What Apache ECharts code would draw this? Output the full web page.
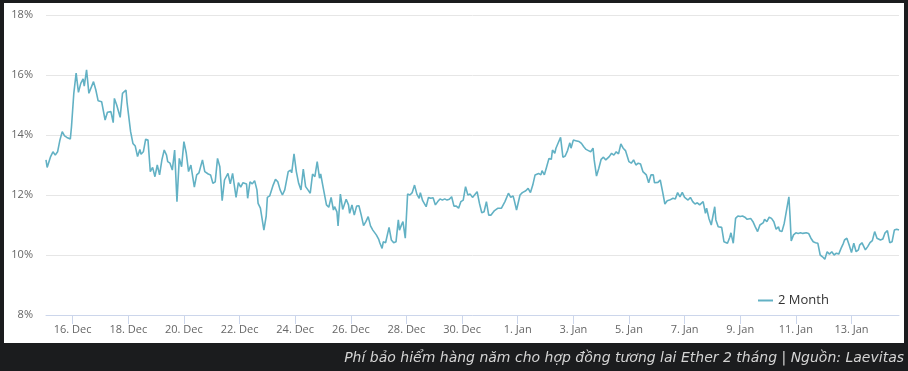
<!DOCTYPE html>
<html>
<head>
<meta charset="utf-8">
<script src="https://cdn.jsdelivr.net/npm/echarts@6/dist/echarts.min.js"></script>
<style>
html,body{margin:0;padding:0;background:#1b1c1e;}
#c{width:908px;height:371px;}
</style>
</head>
<body>
<div id="c"></div>
<script>
// Hours relative to 16 Dec 00:00
const hours = [-23,-22,-19,-17,-15,-13,-11,-9,-7,-5,-2,-1,1,3,5,7,9,10,12,14,18,20,22,25,28,30,33,35,36,38,41,43,46,47,50,52,54,56,58,59,61,63,65,67,69,71,73,75,77,79,81,82,84,86,88,90,92,94,96,
98,100,102,105,107,109,112,114,117,119,121,123,125,127,129,131,132,134,136,138,141,143,145,147,150,151,153,155,157,159,160,162,165,167,168,170,173,175,177,179,181,183,186,188,189,191,193,195,197,199,201,203,205,207,209,211,213,214,216,219,221,
223,225,226,228,229,231,233,236,238,239,241,243,245,247,249,251,253,255,257,259,262,264,265,267,268,270,273,275,277,279,281,282,284,285,287,289,291,293,295,297,299,300,302,305,307,309,311,313,315,317,319,321,323,325,327,329,331,333,335,337,339,341,343,345,
349,351,353,355,357,359,361,364,367,370,373,376,378,380,381,383,386,388,391,393,395,397,399,402,404,405,407,409,411,413,414,416,417,419,421,423,425,427,429,430,432,434,437,439,441,443,445,447,449,450,452,454,456,458,460,463,465,467,469,
471,473,475,477,480,482,484,486,488,490,492,495,497,499,501,502,505,507,509,511,513,515,518,520,522,524,526,528,531,533,535,537,539,541,544,546,547,549,551,554,555,557,560,562,565,567,568,570,572,574,576,578,580,582,585,587,589,591,593,
596,597,599,601,603,605,607,609,610,612,614,615,617,618,619,620,622,624,626,628,630,633,635,637,639,641,643,645,647,649,651,653,655,657,659,661,663,665,666,668,670,672,674,676,678,679,681,684,686,688,690,692,694,695,697,699,701,703,705,707,709,711,713];
const values = [13.17,12.92,13.28,13.44,13.33,13.44,13.83,14.11,13.97,13.92,13.87,14.28,15.39,16.06,15.42,15.72,15.87,15.63,16.17,15.39,15.78,15.5,15.14,15.11,14.5,14.76,14.78,14.41,15.22,15.0,14.59,15.39,15.5,15.06,14.11,13.72,13.63,13.28,13.52,13.36,13.44,13.86,13.83,12.78,12.92,12.61,13.0,12.67,13.17,13.5,13.33,13.11,13.06,12.83,13.5,11.78,13.22,12.94,13.78,
13.4,12.78,13.0,12.26,12.67,12.74,13.17,12.78,12.7,12.67,12.39,12.44,13.22,12.94,11.81,12.5,12.56,12.72,12.37,12.72,11.92,12.41,12.26,12.41,12.37,11.89,12.44,12.37,12.48,12.17,11.72,11.56,10.83,11.3,11.92,11.97,12.33,12.52,12.44,12.17,12.0,12.17,12.78,12.83,12.74,13.37,12.78,12.39,12.17,12.86,12.28,12.17,12.06,12.7,12.61,13.11,12.56,12.7,12.28,11.67,11.59,
11.92,11.5,11.61,11.44,10.97,12.03,11.52,11.86,11.67,11.39,11.67,11.33,11.63,11.64,11.33,10.98,11.11,11.28,10.97,10.83,10.67,10.53,10.41,10.22,10.44,10.41,10.92,10.5,10.41,10.44,11.17,10.83,11.03,11.11,10.56,12.03,12.0,12.08,12.33,12.03,11.89,12.08,11.81,11.61,11.92,11.89,11.91,11.67,11.78,11.87,11.83,11.87,11.83,11.86,11.94,11.63,11.63,11.56,11.78,11.83,12.28,12.0,12.03,11.92,
12.11,11.72,11.41,11.44,11.78,11.33,11.33,11.48,11.56,11.56,11.78,12.06,11.92,11.97,11.83,11.5,12.0,12.08,12.14,12.22,12.08,12.33,12.67,12.72,12.67,12.81,12.67,12.94,13.22,13.19,13.5,13.39,13.56,13.74,13.92,13.26,13.3,13.48,13.74,13.56,13.83,13.81,13.78,13.72,13.61,13.52,13.48,13.44,13.56,13.17,12.63,12.89,13.19,13.26,13.17,13.28,13.39,13.33,13.44,
13.37,13.7,13.56,13.48,13.11,13.06,13.17,13.0,13.06,13.03,12.78,12.67,12.41,12.67,12.67,12.41,12.42,12.5,12.11,11.7,11.81,11.83,11.89,11.87,12.08,11.94,12.09,11.92,11.83,11.92,11.78,11.7,11.74,11.67,11.78,11.39,11.56,11.22,11.0,11.61,11.17,10.94,10.92,10.44,10.39,10.59,10.74,10.39,11.22,11.3,11.28,11.3,11.26,11.19,11.22,11.11,10.94,10.78,11.0,
11.08,11.19,11.11,11.26,11.22,11.11,10.86,10.94,10.81,10.78,11.06,11.28,11.72,11.94,11.28,10.47,10.67,10.74,10.72,10.74,10.72,10.74,10.72,10.56,10.44,10.41,10.39,10.0,9.94,9.86,10.11,10.03,10.11,10.0,10.06,10.03,10.22,10.39,10.5,10.56,10.33,10.08,10.39,10.11,10.17,10.33,10.41,10.17,10.28,10.41,10.48,10.78,10.56,10.56,10.5,10.53,10.74,10.81,10.41,10.44,10.83,10.86,10.83];
const tickHours = [0,48,96,144,192,240,288,336,384,432,480,528,576,624,672];
const tickLabels = ['16. Dec','18. Dec','20. Dec','22. Dec','24. Dec','26. Dec','28. Dec','30. Dec','1. Jan','3. Jan','5. Jan','7. Jan','9. Jan','11. Jan','13. Jan'];
const seriesName = '2 Month';
const caption = 'Phí bảo hiểm hàng năm cho hợp đồng tương lai Ether 2 tháng | Nguồn: Laevitas';

const data = hours.map((h, i) => [h, values[i]]);
const chart = echarts.init(document.getElementById('c'));
chart.setOption({
  backgroundColor: '#1b1c1e',
  animation: false,
  graphic: [
    {type: 'rect', z: -10, shape: {x: 4, y: 3, width: 900, height: 340}, style: {fill: '#ffffff'}},
    {type: 'text', right: 4, top: 351, style: {text: caption, fill: '#d4d4d4', font: 'italic 14px "DejaVu Sans"', textAlign: 'right'}}
  ],
  grid: {left: 46, right: 9, top: 15, bottom: 56},
  legend: {
    data: [seriesName], left: 753, top: 289, icon: 'rect', itemWidth: 15, itemHeight: 2,
    itemGap: 10, textStyle: {color: '#333333', fontSize: 13, fontFamily: 'Open Sans'}
  },
  xAxis: {
    type: 'value', min: -23, max: 713,
    axisLine: {lineStyle: {color: '#ccd6eb', width: 1}},
    axisTick: {show: true, length: 9, lineStyle: {color: '#ccd6eb'}, customValues: tickHours},
    axisLabel: {customValues: tickHours, color: '#666666', fontSize: 11, fontFamily: 'Open Sans', margin: 9,
      formatter: v => tickLabels[tickHours.indexOf(v)] || ''},
    splitLine: {show: false}
  },
  yAxis: {
    type: 'value', min: 8, max: 18, interval: 2,
    axisLine: {show: false}, axisTick: {show: false},
    axisLabel: {formatter: '{value}%', color: '#666666', fontSize: 11, fontFamily: 'Open Sans', margin: 13},
    splitLine: {lineStyle: {color: '#e6e6e6', width: 1}}
  },
  series: [{
    name: seriesName, type: 'line', data: data, showSymbol: false, symbol: 'none',
    lineStyle: {color: '#62b1c4', width: 1.6}, itemStyle: {color: '#62b1c4'}, smooth: false
  }]
});
</script>
</body>
</html>
